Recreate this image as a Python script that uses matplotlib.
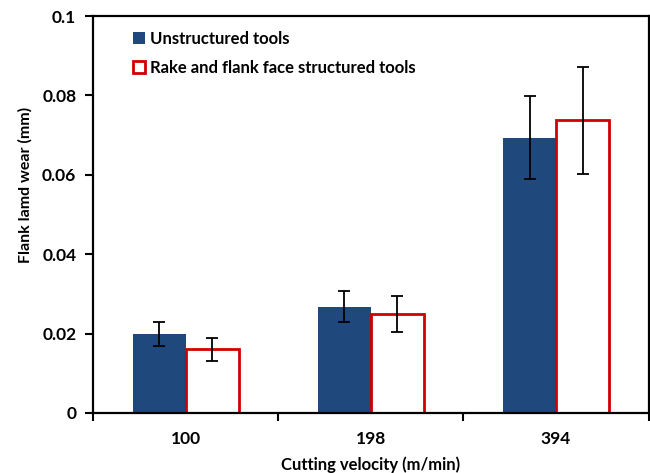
import numpy as np
from matplotlib import pyplot as plt
from matplotlib.ticker import FixedLocator, NullFormatter

# Данные
velocities = ['100', '198', '394']
unstructured = [0.0199, 0.0268, 0.0694]
unstructured_err = [0.0031, 0.0040, 0.0104]
structured = [0.0160, 0.0250, 0.0737]
structured_err = [0.0029, 0.0045, 0.0134]

plt.rcParams['font.family'] = ['Lato', 'DejaVu Sans']
plt.rcParams['font.weight'] = 'bold'

fig = plt.figure(figsize=(6.5, 4.73), dpi=100)
ax = fig.add_axes([0.143, 0.127, 0.855, 0.839])

x = np.arange(len(velocities))
w = 0.286
ax.bar(x - w / 2, unstructured, w, color='#1f497d', label='Unstructured tools',
       yerr=unstructured_err, capsize=4, error_kw=dict(elinewidth=1.3, capthick=1.3))
ax.bar(x + w / 2, structured, w, color='white', edgecolor='#d00000', linewidth=2,
       label='Rake and flank face structured tools',
       yerr=structured_err, capsize=4, error_kw=dict(elinewidth=1.3, capthick=1.3))

# Оформление
ax.set_xlim(-0.5, 2.5)
ax.set_ylim(0, 0.1)
ax.set_yticks([0, 0.02, 0.04, 0.06, 0.08, 0.1])
ax.set_yticklabels(['0', '0.02', '0.04', '0.06', '0.08', '0.1'])
ax.set_xticks(x)
ax.set_xticklabels(velocities)
ax.tick_params(axis='x', which='major', length=0, pad=13, labelsize=12.5)
ax.xaxis.set_minor_locator(FixedLocator([-0.5, 0.5, 1.5, 2.5]))
ax.xaxis.set_minor_formatter(NullFormatter())
ax.tick_params(axis='x', which='minor', length=6, width=1.5)
ax.tick_params(axis='y', which='major', length=6, width=1.5, labelsize=12.5, pad=6)
for s in ax.spines.values():
    s.set_linewidth(1.6)

ax.set_xlabel('Cutting velocity (m/min)', fontsize=12, fontweight='bold', labelpad=7)
ax.set_ylabel('Flank lamd wear (mm)', fontsize=11.5, fontweight='bold')
ax.yaxis.set_label_coords(-0.108, 0.575)

ax.legend(loc='upper left', bbox_to_anchor=(0.045, 1.0), frameon=False, fontsize=12,
          handlelength=0.7, handleheight=0.7, handletextpad=0.3, labelspacing=0.75)

plt.savefig('out.png')
